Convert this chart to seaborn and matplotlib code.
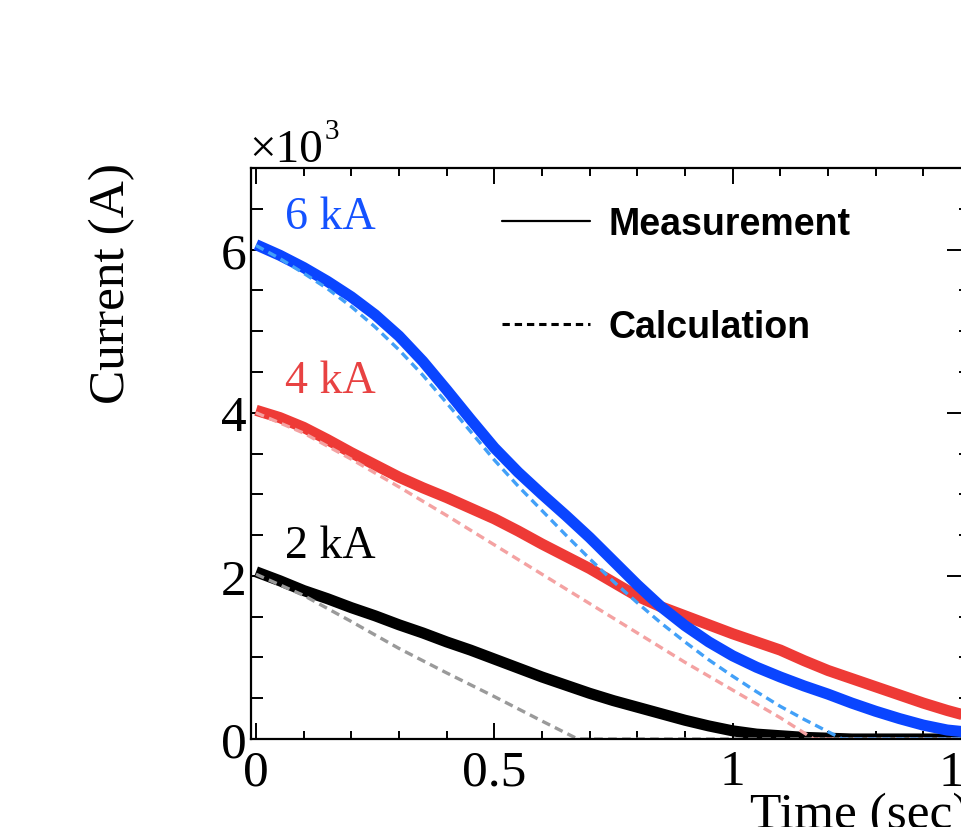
import matplotlib
matplotlib.use("Agg")
import matplotlib.pyplot as plt
import seaborn as sns
import pandas as pd
from matplotlib.ticker import MultipleLocator, FuncFormatter
from matplotlib.lines import Line2D

# ---------------- data (current in kA, time in s) ----------------
t_meas = [0.0, 0.05, 0.1, 0.15, 0.2, 0.25, 0.3, 0.35, 0.4, 0.45, 0.5, 0.55, 0.6, 0.65, 0.7, 0.75,
          0.8, 0.85, 0.9, 0.95, 1.0, 1.05, 1.1, 1.15, 1.2, 1.25, 1.3, 1.35, 1.4, 1.45, 1.5]
meas_6kA = [6.06, 5.93, 5.78, 5.61, 5.42, 5.20, 4.94, 4.63, 4.28, 3.92, 3.57, 3.27, 3.00, 2.74, 2.47, 2.18,
            1.89, 1.62, 1.39, 1.19, 1.02, 0.88, 0.76, 0.65, 0.55, 0.44, 0.34, 0.25, 0.17, 0.11, 0.08]
meas_4kA = [4.03, 3.94, 3.82, 3.67, 3.51, 3.36, 3.21, 3.08, 2.96, 2.83, 2.70, 2.55, 2.39, 2.24, 2.09, 1.92,
            1.75, 1.62, 1.51, 1.40, 1.29, 1.19, 1.09, 0.96, 0.84, 0.74, 0.64, 0.54, 0.44, 0.35, 0.27]
meas_2kA = [2.05, 1.94, 1.82, 1.72, 1.61, 1.51, 1.40, 1.30, 1.19, 1.09, 0.98, 0.87, 0.76, 0.66, 0.56, 0.47,
            0.39, 0.31, 0.23, 0.16, 0.10, 0.06, 0.04, 0.02, 0.01, 0.0, 0.0, 0.0, 0.0, 0.0, 0.0]

t_calc_6kA = [0.0, 0.05, 0.1, 0.15, 0.2, 0.25, 0.3, 0.35, 0.4, 0.45, 0.5, 0.55, 0.6, 0.65, 0.7, 0.75,
              0.8, 0.85, 0.9, 0.95, 1.0, 1.05, 1.1, 1.15, 1.2, 1.23, 1.5]
calc_6kA = [6.05, 5.89, 5.71, 5.52, 5.30, 5.05, 4.77, 4.46, 4.12, 3.77, 3.42, 3.10, 2.80, 2.50, 2.21, 1.93,
            1.67, 1.42, 1.19, 0.97, 0.77, 0.58, 0.40, 0.24, 0.09, 0.0, 0.0]
t_calc_4kA = [0.0, 0.1, 0.2, 0.3, 0.4, 0.5, 0.6, 0.7, 0.8, 0.9, 1.0, 1.1, 1.17, 1.5]
calc_4kA = [4.00, 3.75, 3.43, 3.09, 2.74, 2.38, 2.02, 1.66, 1.30, 0.94, 0.60, 0.26, 0.0, 0.0]
t_calc_2kA = [0.0, 0.1, 0.2, 0.3, 0.4, 0.5, 0.6, 0.675, 1.5]
calc_2kA = [2.02, 1.76, 1.44, 1.11, 0.81, 0.52, 0.22, 0.0, 0.0]

series_labels = ["6 kA", "4 kA", "2 kA"]
legend_labels = ["Measurement", "Calculation"]

# ---------------- style ----------------
sns.set_style("ticks")
plt.rcParams['font.family'] = ['Liberation Serif', 'DejaVu Serif']
plt.rcParams['text.color'] = 'black'
plt.rcParams['xtick.color'] = 'black'
plt.rcParams['ytick.color'] = 'black'
plt.rcParams['axes.labelcolor'] = 'black'

W, H = 961, 828
fig = plt.figure(figsize=(W / 100, H / 100), dpi=100)
L, R, T, B = 251, 971, 169, 740
ax = fig.add_axes([L / W, (H - B) / H, (R - L) / W, (B - T) / H])

meas_cols = ["#0a45ff", "#ee3a36", "#000000"]
calc_cols = ["#42a0f8", "#f4a2a2", "#9a9a9a"]

# measurements (drawn first: 2 kA, 4 kA, 6 kA)
for y, c in [(meas_2kA, meas_cols[2]), (meas_4kA, meas_cols[1]), (meas_6kA, meas_cols[0])]:
    df = pd.DataFrame({"t": t_meas, "I": y})
    sns.lineplot(data=df, x="t", y="I", ax=ax, color=c, linewidth=8.0,
                 estimator=None, sort=False, solid_joinstyle="round", solid_capstyle="butt")

# calculations (dashed, on top)
for tt, y, c in [(t_calc_2kA, calc_2kA, calc_cols[2]), (t_calc_4kA, calc_4kA, calc_cols[1]),
                 (t_calc_6kA, calc_6kA, calc_cols[0])]:
    df = pd.DataFrame({"t": tt, "I": y})
    sns.lineplot(data=df, x="t", y="I", ax=ax, color=c, linewidth=2.4,
                 estimator=None, sort=False)
    ax.lines[-1].set_linestyle((0, (2.6, 1.6)))

ax.set_xlim(-0.0105, 1.5)
ax.set_ylim(0, 7)
ax.set_xlabel("")
ax.set_ylabel("")

# ticks ROOT-like
ax.xaxis.set_major_locator(MultipleLocator(0.5))
ax.xaxis.set_minor_locator(MultipleLocator(0.1))
ax.yaxis.set_major_locator(MultipleLocator(2))
ax.yaxis.set_minor_locator(MultipleLocator(0.5))
ax.xaxis.set_major_formatter(FuncFormatter(lambda v, p: ("%g" % v)))
ax.yaxis.set_major_formatter(FuncFormatter(lambda v, p: ("%d" % round(v))))
ax.tick_params(axis='x', which='major', direction='in', length=11.5, width=1.4,
               top=True, bottom=True, labelsize=37, pad=7)
ax.tick_params(axis='x', which='minor', direction='in', length=5.8, width=1.4, top=True, bottom=True)
ax.tick_params(axis='y', which='major', direction='in', length=17, width=1.4,
               left=True, right=True, labelsize=37, pad=3)
ax.tick_params(axis='y', which='minor', direction='in', length=8.6, width=1.4, left=True, right=True)
for s in ax.spines.values():
    s.set_visible(True)
    s.set_linewidth(1.6)
    s.set_color("black")

# series labels
ax.text(0.061, 6.40, series_labels[0], color="#1452ff", fontsize=33, va="center", ha="left")
ax.text(0.061, 4.39, series_labels[1], color="#e84242", fontsize=33, va="center", ha="left")
ax.text(0.061, 2.37, series_labels[2], color="black", fontsize=33, va="center", ha="left")

# legend
handles = [Line2D([], [], color="black", lw=1.6),
           Line2D([], [], color="black", lw=2.2, linestyle=(0, (2.4, 1.6)))]
leg = ax.legend(handles, legend_labels, loc="upper left",
                bbox_to_anchor=((502 - L) / (R - L), (B - 207) / (B - T)),
                frameon=False, borderpad=0, borderaxespad=0,
                handlelength=2.35, handletextpad=0.5, labelspacing=1.8,
                prop={"family": "Liberation Sans", "weight": "bold", "size": 27})
for txt in leg.get_texts():
    txt.set_color("black")

# axis titles and exponent
fig.text(112 / W, 1 - 163 / H, "Current (A)", rotation=90, ha="center", va="top", fontsize=37)
fig.text(750 / W, 1 - 793 / H, "Time (sec)", ha="left", va="top", fontsize=37)
fig.text(249 / W, 1 - 151 / H, "\u00d710", ha="left", va="center", fontsize=34)
fig.text(325 / W, 1 - 132 / H, "3", ha="left", va="center", fontsize=21)

fig.savefig("out.png", dpi=100)
